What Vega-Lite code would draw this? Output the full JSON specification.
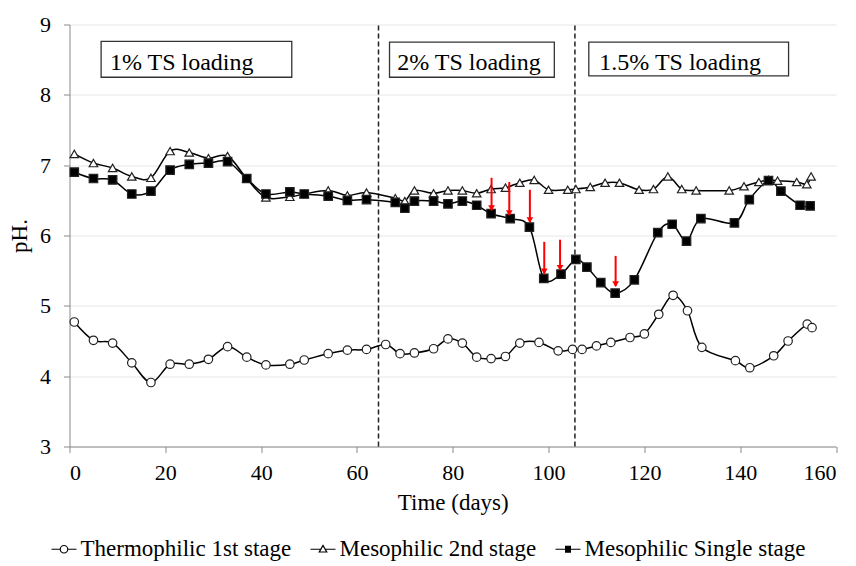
{
  "$schema": "https://vega.github.io/schema/vega-lite/v6.json",
  "width": 766.5,
  "height": 422,
  "autosize": {"type": "none"},
  "padding": {"left": 69.5, "top": 24.5, "right": 20, "bottom": 119.5},
  "background": "white",
  "config": {
    "view": {"stroke": null},
    "font": "Liberation Serif",
    "axis": {"labelFont": "Liberation Serif", "titleFont": "Liberation Serif", "labelColor": "black", "titleColor": "black", "titleFontWeight": "normal", "domainColor": "#8a8a8a", "tickColor": "#8a8a8a", "tickSize": 6, "labelFontSize": 22, "titleFontSize": 23},
    "axisX": {"grid": false, "tickCount": 8, "labelPadding": 10, "titlePadding": 8},
    "axisY": {"grid": true, "gridColor": "#e6e6e6", "tickCount": 6, "labelPadding": 13, "titlePadding": 8}
  },
  "datasets": {
    "series": [
      {"series": "Thermophilic 1st stage", "day": 1, "ph": 4.77},
      {"series": "Thermophilic 1st stage", "day": 5, "ph": 4.51},
      {"series": "Thermophilic 1st stage", "day": 9, "ph": 4.47},
      {"series": "Thermophilic 1st stage", "day": 13, "ph": 4.19},
      {"series": "Thermophilic 1st stage", "day": 17, "ph": 3.91},
      {"series": "Thermophilic 1st stage", "day": 21, "ph": 4.17},
      {"series": "Thermophilic 1st stage", "day": 25, "ph": 4.17},
      {"series": "Thermophilic 1st stage", "day": 29, "ph": 4.24},
      {"series": "Thermophilic 1st stage", "day": 33, "ph": 4.42},
      {"series": "Thermophilic 1st stage", "day": 37, "ph": 4.27},
      {"series": "Thermophilic 1st stage", "day": 41, "ph": 4.16},
      {"series": "Thermophilic 1st stage", "day": 46, "ph": 4.17},
      {"series": "Thermophilic 1st stage", "day": 49, "ph": 4.23},
      {"series": "Thermophilic 1st stage", "day": 54, "ph": 4.32},
      {"series": "Thermophilic 1st stage", "day": 58, "ph": 4.37},
      {"series": "Thermophilic 1st stage", "day": 62, "ph": 4.38},
      {"series": "Thermophilic 1st stage", "day": 66, "ph": 4.45},
      {"series": "Thermophilic 1st stage", "day": 69, "ph": 4.32},
      {"series": "Thermophilic 1st stage", "day": 72, "ph": 4.33},
      {"series": "Thermophilic 1st stage", "day": 76, "ph": 4.39},
      {"series": "Thermophilic 1st stage", "day": 79, "ph": 4.53},
      {"series": "Thermophilic 1st stage", "day": 82, "ph": 4.47},
      {"series": "Thermophilic 1st stage", "day": 85, "ph": 4.27},
      {"series": "Thermophilic 1st stage", "day": 88, "ph": 4.25},
      {"series": "Thermophilic 1st stage", "day": 91, "ph": 4.28},
      {"series": "Thermophilic 1st stage", "day": 94, "ph": 4.47},
      {"series": "Thermophilic 1st stage", "day": 98, "ph": 4.48},
      {"series": "Thermophilic 1st stage", "day": 102, "ph": 4.36},
      {"series": "Thermophilic 1st stage", "day": 105, "ph": 4.38},
      {"series": "Thermophilic 1st stage", "day": 107, "ph": 4.38},
      {"series": "Thermophilic 1st stage", "day": 110, "ph": 4.43},
      {"series": "Thermophilic 1st stage", "day": 113, "ph": 4.48},
      {"series": "Thermophilic 1st stage", "day": 117, "ph": 4.55},
      {"series": "Thermophilic 1st stage", "day": 120, "ph": 4.6},
      {"series": "Thermophilic 1st stage", "day": 123, "ph": 4.88},
      {"series": "Thermophilic 1st stage", "day": 126, "ph": 5.15},
      {"series": "Thermophilic 1st stage", "day": 129, "ph": 4.93},
      {"series": "Thermophilic 1st stage", "day": 132, "ph": 4.41},
      {"series": "Thermophilic 1st stage", "day": 139, "ph": 4.22},
      {"series": "Thermophilic 1st stage", "day": 142, "ph": 4.12},
      {"series": "Thermophilic 1st stage", "day": 147, "ph": 4.29},
      {"series": "Thermophilic 1st stage", "day": 150, "ph": 4.5},
      {"series": "Thermophilic 1st stage", "day": 154, "ph": 4.74},
      {"series": "Thermophilic 1st stage", "day": 155, "ph": 4.69},
      {"series": "Mesophilic 2nd stage", "day": 1, "ph": 7.16},
      {"series": "Mesophilic 2nd stage", "day": 5, "ph": 7.03},
      {"series": "Mesophilic 2nd stage", "day": 9, "ph": 6.96},
      {"series": "Mesophilic 2nd stage", "day": 13, "ph": 6.84},
      {"series": "Mesophilic 2nd stage", "day": 17, "ph": 6.82},
      {"series": "Mesophilic 2nd stage", "day": 21, "ph": 7.2},
      {"series": "Mesophilic 2nd stage", "day": 25, "ph": 7.18},
      {"series": "Mesophilic 2nd stage", "day": 29, "ph": 7.1},
      {"series": "Mesophilic 2nd stage", "day": 33, "ph": 7.13},
      {"series": "Mesophilic 2nd stage", "day": 37, "ph": 6.81},
      {"series": "Mesophilic 2nd stage", "day": 41, "ph": 6.54},
      {"series": "Mesophilic 2nd stage", "day": 46, "ph": 6.55},
      {"series": "Mesophilic 2nd stage", "day": 49, "ph": 6.59},
      {"series": "Mesophilic 2nd stage", "day": 54, "ph": 6.64},
      {"series": "Mesophilic 2nd stage", "day": 58, "ph": 6.57},
      {"series": "Mesophilic 2nd stage", "day": 62, "ph": 6.61},
      {"series": "Mesophilic 2nd stage", "day": 68, "ph": 6.53},
      {"series": "Mesophilic 2nd stage", "day": 70, "ph": 6.49},
      {"series": "Mesophilic 2nd stage", "day": 72, "ph": 6.64},
      {"series": "Mesophilic 2nd stage", "day": 76, "ph": 6.6},
      {"series": "Mesophilic 2nd stage", "day": 79, "ph": 6.64},
      {"series": "Mesophilic 2nd stage", "day": 82, "ph": 6.64},
      {"series": "Mesophilic 2nd stage", "day": 85, "ph": 6.6},
      {"series": "Mesophilic 2nd stage", "day": 88, "ph": 6.66},
      {"series": "Mesophilic 2nd stage", "day": 91, "ph": 6.68},
      {"series": "Mesophilic 2nd stage", "day": 94, "ph": 6.75},
      {"series": "Mesophilic 2nd stage", "day": 97, "ph": 6.79},
      {"series": "Mesophilic 2nd stage", "day": 100, "ph": 6.65},
      {"series": "Mesophilic 2nd stage", "day": 104, "ph": 6.65},
      {"series": "Mesophilic 2nd stage", "day": 105.7, "ph": 6.66},
      {"series": "Mesophilic 2nd stage", "day": 108.7, "ph": 6.69},
      {"series": "Mesophilic 2nd stage", "day": 111.8, "ph": 6.75},
      {"series": "Mesophilic 2nd stage", "day": 114.8, "ph": 6.75},
      {"series": "Mesophilic 2nd stage", "day": 118.9, "ph": 6.65},
      {"series": "Mesophilic 2nd stage", "day": 121.9, "ph": 6.66},
      {"series": "Mesophilic 2nd stage", "day": 124.9, "ph": 6.84},
      {"series": "Mesophilic 2nd stage", "day": 127.8, "ph": 6.66},
      {"series": "Mesophilic 2nd stage", "day": 130.8, "ph": 6.64},
      {"series": "Mesophilic 2nd stage", "day": 137.7, "ph": 6.64},
      {"series": "Mesophilic 2nd stage", "day": 140.8, "ph": 6.7},
      {"series": "Mesophilic 2nd stage", "day": 143.9, "ph": 6.76},
      {"series": "Mesophilic 2nd stage", "day": 145.9, "ph": 6.79},
      {"series": "Mesophilic 2nd stage", "day": 147.8, "ph": 6.78},
      {"series": "Mesophilic 2nd stage", "day": 151.8, "ph": 6.76},
      {"series": "Mesophilic 2nd stage", "day": 153.9, "ph": 6.73},
      {"series": "Mesophilic 2nd stage", "day": 154.8, "ph": 6.84},
      {"series": "Mesophilic Single stage", "day": 1, "ph": 6.9},
      {"series": "Mesophilic Single stage", "day": 5, "ph": 6.81},
      {"series": "Mesophilic Single stage", "day": 9, "ph": 6.79},
      {"series": "Mesophilic Single stage", "day": 13, "ph": 6.59},
      {"series": "Mesophilic Single stage", "day": 17, "ph": 6.63},
      {"series": "Mesophilic Single stage", "day": 21, "ph": 6.93},
      {"series": "Mesophilic Single stage", "day": 25, "ph": 7.01},
      {"series": "Mesophilic Single stage", "day": 29, "ph": 7.03},
      {"series": "Mesophilic Single stage", "day": 33, "ph": 7.05},
      {"series": "Mesophilic Single stage", "day": 37, "ph": 6.81},
      {"series": "Mesophilic Single stage", "day": 41, "ph": 6.59},
      {"series": "Mesophilic Single stage", "day": 46, "ph": 6.62},
      {"series": "Mesophilic Single stage", "day": 49, "ph": 6.59},
      {"series": "Mesophilic Single stage", "day": 54, "ph": 6.56},
      {"series": "Mesophilic Single stage", "day": 58, "ph": 6.5},
      {"series": "Mesophilic Single stage", "day": 62, "ph": 6.51},
      {"series": "Mesophilic Single stage", "day": 68, "ph": 6.47},
      {"series": "Mesophilic Single stage", "day": 70, "ph": 6.39},
      {"series": "Mesophilic Single stage", "day": 72, "ph": 6.49},
      {"series": "Mesophilic Single stage", "day": 76, "ph": 6.49},
      {"series": "Mesophilic Single stage", "day": 79, "ph": 6.45},
      {"series": "Mesophilic Single stage", "day": 82, "ph": 6.49},
      {"series": "Mesophilic Single stage", "day": 85, "ph": 6.43},
      {"series": "Mesophilic Single stage", "day": 88, "ph": 6.31},
      {"series": "Mesophilic Single stage", "day": 92, "ph": 6.24},
      {"series": "Mesophilic Single stage", "day": 96, "ph": 6.12},
      {"series": "Mesophilic Single stage", "day": 99, "ph": 5.39},
      {"series": "Mesophilic Single stage", "day": 102.6, "ph": 5.45},
      {"series": "Mesophilic Single stage", "day": 105.7, "ph": 5.66},
      {"series": "Mesophilic Single stage", "day": 108, "ph": 5.55},
      {"series": "Mesophilic Single stage", "day": 110.9, "ph": 5.33},
      {"series": "Mesophilic Single stage", "day": 113.9, "ph": 5.18},
      {"series": "Mesophilic Single stage", "day": 117.9, "ph": 5.37},
      {"series": "Mesophilic Single stage", "day": 122.8, "ph": 6.04},
      {"series": "Mesophilic Single stage", "day": 125.8, "ph": 6.16},
      {"series": "Mesophilic Single stage", "day": 128.8, "ph": 5.92},
      {"series": "Mesophilic Single stage", "day": 131.8, "ph": 6.24},
      {"series": "Mesophilic Single stage", "day": 138.8, "ph": 6.18},
      {"series": "Mesophilic Single stage", "day": 141.9, "ph": 6.51},
      {"series": "Mesophilic Single stage", "day": 145.9, "ph": 6.78},
      {"series": "Mesophilic Single stage", "day": 148.5, "ph": 6.63},
      {"series": "Mesophilic Single stage", "day": 152.5, "ph": 6.43},
      {"series": "Mesophilic Single stage", "day": 154.6, "ph": 6.42}
    ],
    "boxes": [
      {"label": "1% TS loading", "day": 6.6, "day2": 46.4, "ph": 8.25, "ph2": 8.76, "tx": 8.45, "ty": 8.35},
      {"label": "2% TS loading", "day": 66.8, "day2": 101.2, "ph": 8.25, "ph2": 8.75, "tx": 68.4, "ty": 8.35},
      {"label": "1.5% TS loading", "day": 108.4, "day2": 150.1, "ph": 8.27, "ph2": 8.75, "tx": 110.6, "ty": 8.35}
    ],
    "phases": [
      {"day": 64.5, "ph": 3, "ph2": 9},
      {"day": 105.5, "ph": 3, "ph2": 9}
    ],
    "arrows": [
      {"day": 88.1, "ph": 6.82, "ph2": 6.36},
      {"day": 91.8, "ph": 6.76, "ph2": 6.29},
      {"day": 96.1, "ph": 6.65, "ph2": 6.19},
      {"day": 99.1, "ph": 5.91, "ph2": 5.46},
      {"day": 102.4, "ph": 5.94, "ph2": 5.51},
      {"day": 114.0, "ph": 5.71, "ph2": 5.28}
    ]
  },
  "encoding": {
    "x": {"field": "day", "type": "quantitative", "title": "Time (days)", "scale": {"domain": [0, 160], "nice": false}},
    "y": {"field": "ph", "type": "quantitative", "title": "pH.", "scale": {"domain": [3, 9], "nice": false}}
  },
  "resolve": {"scale": {"shape": "independent"}, "legend": {"shape": "independent"}},
  "layer": [
    {
      "data": {"name": "phases"},
      "mark": {"type": "rule", "stroke": "#222222", "strokeWidth": 1.5, "strokeDash": [5, 3]},
      "encoding": {"y2": {"field": "ph2"}}
    },
    {
      "data": {"name": "boxes"},
      "mark": {"type": "rect", "fill": "white", "stroke": "#333333", "strokeWidth": 1.3},
      "encoding": {"x2": {"field": "day2"}, "y2": {"field": "ph2"}}
    },
    {
      "data": {"name": "boxes"},
      "mark": {"type": "text", "font": "Liberation Serif", "fontSize": 24, "align": "left", "baseline": "alphabetic", "color": "black"},
      "encoding": {
        "x": {"field": "tx", "type": "quantitative", "title": "Time (days)"},
        "y": {"field": "ty", "type": "quantitative", "title": "pH."},
        "text": {"field": "label"}
      }
    },
    {
      "data": {"name": "series"},
      "mark": {"type": "line", "stroke": "black", "strokeWidth": 1.5, "interpolate": "cardinal"},
      "encoding": {"detail": {"field": "series"}}
    },
    {
      "data": {"name": "series"},
      "mark": {"type": "point", "filled": false, "stroke": "black", "strokeWidth": 1.2, "size": 0, "opacity": 1},
      "encoding": {
        "shape": {
          "field": "series", "type": "nominal",
          "scale": {
            "domain": ["Thermophilic 1st stage", "Mesophilic 2nd stage", "Mesophilic Single stage"],
            "range": [
              "M-1,0L-0.3,0M0.3,0L1,0M-0.3,0A0.3,0.3,0,1,1,0.3,0A0.3,0.3,0,1,1,-0.3,0Z",
              "M-1,0L-0.17,0M0.17,0L1,0M-0.3,0.22L0.3,0.22L0,-0.3Z",
              "M-1,0L1,0M-0.24,-0.24L0.24,-0.24M-0.24,-0.18L0.24,-0.18M-0.24,-0.12L0.24,-0.12M-0.24,-0.06L0.24,-0.06M-0.24,0.06L0.24,0.06M-0.24,0.12L0.24,0.12M-0.24,0.18L0.24,0.18M-0.24,0.24L0.24,0.24"
            ]
          },
          "legend": {
            "orient": "none", "legendX": -19, "legendY": 511, "direction": "horizontal", "title": null,
            "symbolSize": 625, "labelFont": "Liberation Serif", "labelFontSize": 23, "labelColor": "black", "labelLimit": 500,
            "labelOffset": 3, "columnPadding": 16, "padding": 0, "symbolStrokeWidth": 1.2, "symbolStrokeColor": "black",
            "symbolFillColor": "transparent", "symbolOpacity": 1
          }
        }
      }
    },
    {
      "data": {"name": "series"},
      "mark": {"type": "point", "filled": true, "stroke": "#222222", "strokeWidth": 1.2, "size": 72, "opacity": 1},
      "encoding": {
        "shape": {
          "field": "series", "type": "nominal",
          "scale": {"domain": ["Thermophilic 1st stage", "Mesophilic 2nd stage", "Mesophilic Single stage"], "range": ["circle", "triangle-up", "square"]},
          "legend": null
        },
        "fill": {
          "field": "series", "type": "nominal",
          "scale": {"domain": ["Thermophilic 1st stage", "Mesophilic 2nd stage", "Mesophilic Single stage"], "range": ["white", "white", "black"]},
          "legend": null
        }
      }
    },
    {
      "data": {"name": "arrows"},
      "mark": {"type": "rule", "stroke": "#ff0000", "strokeWidth": 2},
      "encoding": {"y2": {"field": "ph2"}}
    },
    {
      "data": {"name": "arrows"},
      "mark": {"type": "point", "shape": "triangle-down", "filled": true, "fill": "#ff0000", "stroke": null, "size": 45, "opacity": 1, "yOffset": -2},
      "encoding": {"y": {"field": "ph2", "type": "quantitative", "title": "pH."}}
    }
  ]
}
